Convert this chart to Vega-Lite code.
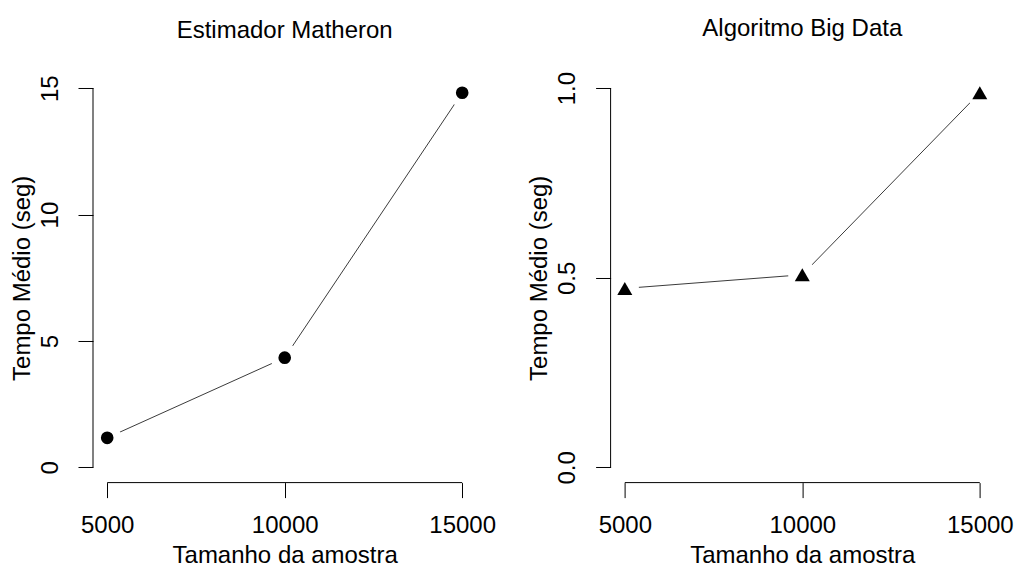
{
  "$schema": "https://vega.github.io/schema/vega-lite/v6.json",
  "background": "white",
  "padding": {"left": 10, "top": 17, "right": 5, "bottom": 0},
  "config": {
    "font": "Liberation Sans",
    "view": {"stroke": null},
    "axis": {
      "grid": false,
      "domain": false,
      "ticks": true,
      "tickSize": 15,
      "tickColor": "black",
      "tickWidth": 1,
      "labelFontSize": 24,
      "labelColor": "black",
      "titleFontSize": 24,
      "titleFontWeight": "normal",
      "titleColor": "black",
      "zindex": 1
    },
    "axisX": {"labelPadding": 16, "titlePadding": 6},
    "axisY": {"labelAngle": 270, "labelAlign": "center", "labelBaseline": "alphabetic", "labelPadding": 21, "titlePadding": 4},
    "title": {"fontSize": 24, "fontWeight": "normal", "color": "black", "frame": "group", "anchor": "middle", "offset": 30}
  },
  "datasets": {
    "matheron": [
      {"n": 5000, "tempo": 1.17},
      {"n": 10000, "tempo": 4.34},
      {"n": 15000, "tempo": 14.82}
    ],
    "bigdata": [
      {"n": 5000, "tempo": 0.472},
      {"n": 10000, "tempo": 0.508},
      {"n": 15000, "tempo": 0.988}
    ]
  },
  "bounds": "flush",
  "spacing": 133.6,
  "hconcat": [
    {
      "width": 383.4,
      "height": 409.6,
      "title": "Estimador Matheron",
      "data": {"name": "matheron"},
      "encoding": {
        "x": {"field": "n", "type": "quantitative", "scale": {"domain": [4600, 15400], "nice": false, "zero": false},
              "axis": {"values": [5000, 10000, 15000], "format": "d", "title": "Tamanho da amostra"}},
        "y": {"field": "tempo", "type": "quantitative", "scale": {"domain": [-0.6, 15.6], "nice": false, "zero": false},
              "axis": {"values": [0, 5, 10, 15], "format": "d", "title": "Tempo Médio (seg)"}}
      },
      "layer": [
        {"mark": {"type": "line", "color": "#3a3a3a", "strokeWidth": 1}},
        {"mark": {"type": "point", "shape": "circle", "filled": true, "color": "white", "opacity": 1, "size": 800}},
        {"mark": {"type": "point", "shape": "circle", "filled": true, "color": "black", "opacity": 1, "size": 160}},
        {"transform": [{"filter": "datum.n == 5000"}], "mark": {"type": "rule", "color": "black", "strokeWidth": 1},
         "encoding": {"x": {"datum": 5000, "type": "quantitative"}, "x2": {"datum": 15000}, "y": {"datum": -0.6, "type": "quantitative"}}},
        {"transform": [{"filter": "datum.n == 5000"}], "mark": {"type": "rule", "color": "black", "strokeWidth": 1},
         "encoding": {"y": {"datum": 0, "type": "quantitative"}, "y2": {"datum": 15}, "x": {"datum": 4600, "type": "quantitative"}}}
      ]
    },
    {
      "width": 383.4,
      "height": 409.6,
      "title": "Algoritmo Big Data",
      "data": {"name": "bigdata"},
      "encoding": {
        "x": {"field": "n", "type": "quantitative", "scale": {"domain": [4600, 15400], "nice": false, "zero": false},
              "axis": {"values": [5000, 10000, 15000], "format": "d", "title": "Tamanho da amostra"}},
        "y": {"field": "tempo", "type": "quantitative", "scale": {"domain": [-0.04, 1.04], "nice": false, "zero": false},
              "axis": {"values": [0, 0.5, 1], "format": ".1f", "title": "Tempo Médio (seg)"}}
      },
      "layer": [
        {"mark": {"type": "line", "color": "#3a3a3a", "strokeWidth": 1}},
        {"mark": {"type": "point", "shape": "circle", "filled": true, "color": "white", "opacity": 1, "size": 800}},
        {"mark": {"type": "point", "shape": "triangle-up", "filled": true, "color": "black", "opacity": 1, "size": 225}},
        {"transform": [{"filter": "datum.n == 5000"}], "mark": {"type": "rule", "color": "black", "strokeWidth": 1},
         "encoding": {"x": {"datum": 5000, "type": "quantitative"}, "x2": {"datum": 15000}, "y": {"datum": -0.04, "type": "quantitative"}}},
        {"transform": [{"filter": "datum.n == 5000"}], "mark": {"type": "rule", "color": "black", "strokeWidth": 1},
         "encoding": {"y": {"datum": 0, "type": "quantitative"}, "y2": {"datum": 1}, "x": {"datum": 4600, "type": "quantitative"}}}
      ]
    }
  ]
}
